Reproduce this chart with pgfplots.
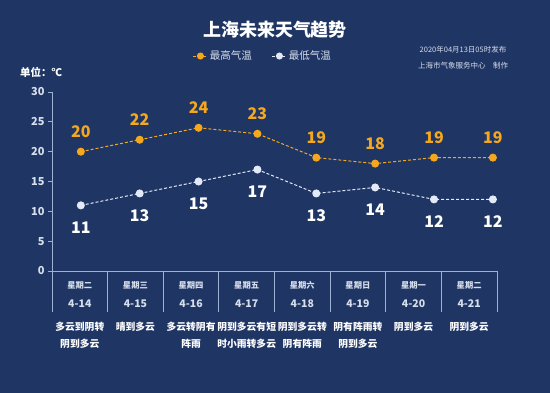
\documentclass[border=0pt]{standalone}
\usepackage{pgfplots}
\pgfplotsset{compat=1.18}
\usepackage{fontspec}
\setmainfont{Noto Sans CJK SC}
\definecolor{bg}{RGB}{31,53,100}
\definecolor{hi}{RGB}{245,168,30}
\definecolor{lo}{RGB}{226,234,248}
\definecolor{axc}{RGB}{160,178,212}
\definecolor{txt}{RGB}{215,222,236}
\begin{document}
\begin{tikzpicture}[x=1pt,y=1pt]
\fill[bg] (0,0) rectangle (550,393);
\node[font=\bfseries\fontsize{18}{20}\selectfont, text=white] at (275,363) {上海未来天气趋势};
\node[font=\fontsize{7.5}{9}\selectfont, text=txt] at (463,343) {2020年04月13日05时发布};
\node[font=\fontsize{7.5}{9}\selectfont, text=txt] at (463,327) {上海市气象服务中心\quad 制作};
\node[font=\bfseries\fontsize{10.5}{12}\selectfont, text=white] at (41,321) {单位：℃};
\begin{axis}[
  at={(52pt,122pt)}, anchor=south west, scale only axis, width=445pt, height=179pt,
  xmin=-0.49, xmax=7.07, ymin=0, ymax=30,
  axis lines*=left, xtick=\empty, ytick={0,5,...,30},
  tick align=outside, major tick length=4pt,
  axis line style={draw=axc, line width=0.8pt},
  ytick style={draw=axc, line width=0.8pt},
  yticklabel style={font=\bfseries\fontsize{11}{12}\selectfont, text=txt},
  /pgf/number format/assume math mode=true,
  clip=false,
  legend columns=2,
  legend style={at={(0.474,1.201)}, anchor=center, draw=none, fill=none, text=txt,
    font=\fontsize{10.5}{12}\selectfont,
    /tikz/every even column/.append style={column sep=18pt}},
  legend image code/.code={\draw[#1, mark repeat=2, mark phase=2, mark size=3pt] plot coordinates {(0pt,0pt) (7pt,0pt) (14pt,0pt)};},
]
\addplot[hi, dash pattern=on 3pt off 2pt, line width=1pt, mark=*, mark size=3.5pt,
  mark options={solid, fill=hi, draw=hi},
  nodes near coords,
  every node near coord/.append style={anchor=center, yshift=20pt, text=hi, font=\bfseries\fontsize{16}{18}\selectfont}]
  coordinates {(0,20)(1,22)(2,24)(3,23)(4,19)(5,18)(6,19)(7,19)};
\addlegendentry{最高气温}
\addplot[lo, dash pattern=on 3pt off 2pt, line width=1pt, mark=*, mark size=3.5pt,
  mark options={solid, fill=lo, draw=lo},
  nodes near coords,
  every node near coord/.append style={anchor=center, yshift=-22pt, text=white, font=\bfseries\fontsize{16}{18}\selectfont}]
  coordinates {(0,11)(1,13)(2,15)(3,17)(4,13)(5,14)(6,12)(7,12)};
\addlegendentry{最低气温}
\end{axis}
\begin{axis}[at={(52pt,122pt)}, anchor=south west, scale only axis, width=445pt, height=179pt,
  xmin=0, xmax=8, ymin=0, ymax=30, hide axis, clip=false]
\pgfplotsinvokeforeach{0,...,8}{\draw[axc, line width=0.8pt] (axis cs:#1,0) -- ++(0pt,-41pt);}
\def\wk#1#2#3#4{%
  \node[font=\bfseries\fontsize{8.3}{10}\selectfont, text=txt] at ([yshift=-14pt]axis cs:#1,0) {#2};
  \node[font=\bfseries\fontsize{10.5}{12}\selectfont, text=txt] at ([yshift=-33pt]axis cs:#1,0) {#3};
  \node[font=\bfseries\fontsize{9.8}{17}\selectfont, text=white, align=center, anchor=north] at ([yshift=-48pt]axis cs:#1,0) {#4};
}
\wk{0.5}{星期二}{4-14}{多云到阴转\\阴到多云}
\wk{1.5}{星期三}{4-15}{晴到多云}
\wk{2.5}{星期四}{4-16}{多云转阴有\\阵雨}
\wk{3.5}{星期五}{4-17}{阴到多云有短\\时小雨转多云}
\wk{4.5}{星期六}{4-18}{阴到多云转\\阴有阵雨}
\wk{5.5}{星期日}{4-19}{阴有阵雨转\\阴到多云}
\wk{6.5}{星期一}{4-20}{阴到多云}
\wk{7.5}{星期二}{4-21}{阴到多云}
\end{axis}
\end{tikzpicture}
\end{document}
